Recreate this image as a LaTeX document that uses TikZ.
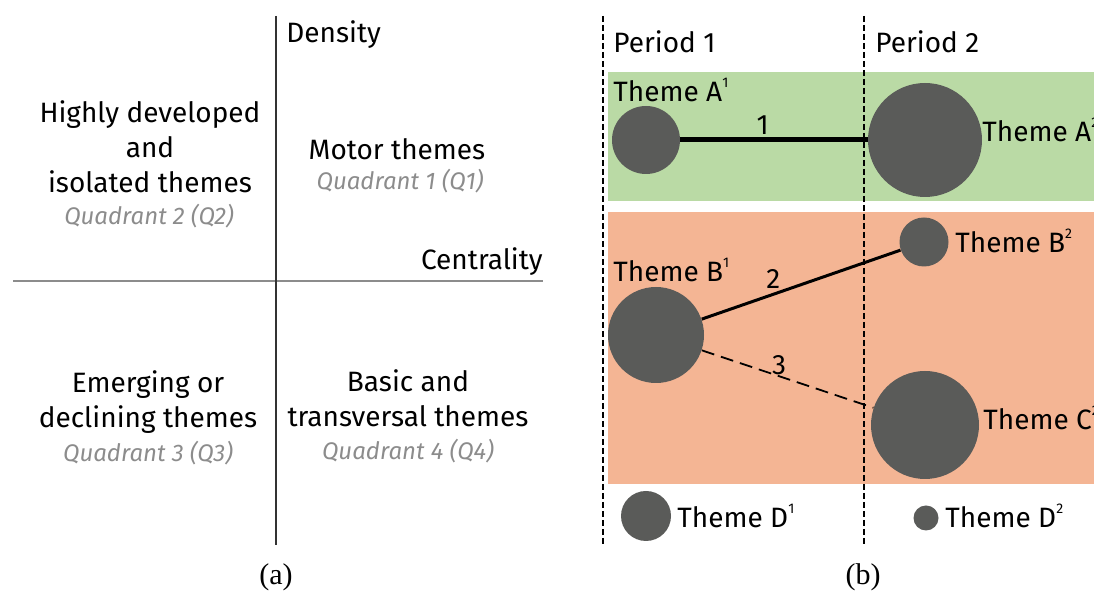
\documentclass[tikz,border=0pt]{standalone}
\usepackage{fontspec}
\setmainfont{Fira Sans}
\newfontfamily\capfont{Liberation Serif}
\usepackage{tikz}
\definecolor{themegray}{HTML}{5A5B59}
\definecolor{greenband}{HTML}{BADAA5}
\definecolor{orangeband}{HTML}{F4B594}
\definecolor{quadgray}{HTML}{8C8C8C}
\newcommand{\thsup}[1]{\raisebox{0.95ex}{\fontsize{7}{7}\selectfont #1}}

\begin{document}
\begin{tikzpicture}[x=0.5pt, y=-0.5pt,
  theme/.style={circle, fill=themegray, inner sep=0pt, minimum size=#1},
  lbl/.style={font=\fontsize{14}{17.5}\selectfont, inner sep=0pt},
  quad/.style={font=\fontsize{12}{14}\selectfont\itshape, text=quadgray, inner sep=0pt},
  captext/.style={font=\capfont\fontsize{15}{17}\selectfont, inner sep=0pt},
  period/.style={line width=0.8pt, dash pattern=on 3pt off 1.5pt}]
\useasboundingbox (0,0) rectangle (1094,592);

% (a) quadrants
\coordinate (ytop) at (276,16);
\coordinate (ybot) at (276,545);
\coordinate (xl) at (13,281);
\coordinate (xr) at (543,281);
\draw [line width=1.2pt, black!45] (xl) -- (xr);
\draw [line width=0.6pt, black!80] (ytop) -- (ybot);
\node [lbl, anchor=base west] (density) at (286,43) {Density};
\node [lbl, anchor=base east] (centrality) at (543,270) {Centrality};

\node [lbl, align=center, anchor=base] (hd) at (150,193) {Highly developed\\and\\isolated themes};
\node [quad, anchor=base] (q2) at (149,225) {Quadrant 2 (Q2)};
\node [lbl, anchor=base] (motor) at (397,160) {Motor themes};
\node [quad, anchor=base] (q1) at (400,190) {Quadrant 1 (Q1)};
\node [lbl, align=center, anchor=base] (emerg) at (148,428) {Emerging or\\declining themes};
\node [quad, anchor=base] (q3) at (148,462) {Quadrant 3 (Q3)};
\node [lbl, align=center, anchor=base] (basic) at (408,427) {Basic and\\transversal themes};
\node [quad, anchor=base] (q4) at (408,460) {Quadrant 4 (Q4)};
\node [captext, anchor=base] (capa) at (276,585) {(a)};

% (b) theme evolution
\fill [greenband] (608,72) rectangle (1094,201);
\fill [orangeband] (608,212) rectangle (1094,484);
\coordinate (p1top) at (603,16);
\coordinate (p1bot) at (603,547);
\coordinate (p2top) at (864,16);
\coordinate (p2bot) at (864,547);
\draw [period] (p1top) -- (p1bot);
\draw [period] (p2top) -- (p2bot);
\node [lbl, anchor=base west] (per1) at (613,53) {Period 1};
\node [lbl, anchor=base west] (per2) at (875,53) {Period 2};

\node [theme=34pt] (a1) at (646,140) {};
\node [theme=57pt] (a2) at (925,140) {};
\node [theme=24.5pt] (b2) at (924,242) {};
\node [theme=48pt] (b1) at (656,335) {};
\node [theme=54pt] (c2) at (925,425) {};
\node [theme=25pt] (d1) at (646,516) {};
\node [theme=12.5pt] (d2) at (926,518) {};

\draw [line width=2.5pt] (a1) -- (a2) node [lbl, pos=0.44, above=1.5pt] (e1) {1};
\draw [line width=1.5pt] (b1) -- (b2) node [lbl, pos=0.36, above=2pt] (e2) {2};
\draw [line width=0.9pt, dash pattern=on 6.5pt off 3.5pt] (b1) -- (c2) node [lbl, pos=0.45, above=0pt] (e3) {3};

\node [lbl, anchor=base west] (a1l) at (613,102) {Theme A\thsup{1}};
\node [lbl, anchor=base west] (a2l) at (982,142) {Theme A\thsup{2}};
\node [lbl, anchor=base west] (b2l) at (955,253) {Theme B\thsup{2}};
\node [lbl, anchor=base west] (b1l) at (613,282) {Theme B\thsup{1}};
\node [lbl, anchor=base west] (c2l) at (983,430) {Theme C\thsup{2}};
\node [lbl, anchor=base west] (d1l) at (677,528) {Theme D\thsup{1}};
\node [lbl, anchor=base west] (d2l) at (945,528) {Theme D\thsup{2}};
\node [captext, anchor=base] (capb) at (863,585) {(b)};
\end{tikzpicture}
\end{document}
